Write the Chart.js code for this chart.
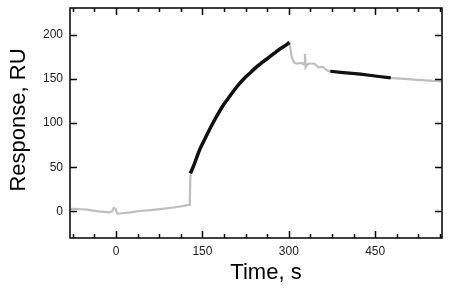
<!DOCTYPE html>
<html>
<head>
<meta charset="utf-8">
<script src="https://cdn.jsdelivr.net/npm/chart.js@4"></script>
<style>
  html, body { margin: 0; padding: 0; background: #fff; }
  #wrap { width: 450px; height: 288px; }
</style>
</head>
<body>
<div id="wrap"><canvas id="sensorgram"></canvas></div>
<script>
// full sensorgram (grey)
const sensorTime = [-79, -70, -60, -50, -40, -30, -20, -12, -7, -4, -1, 2, 10, 25, 40, 60, 80, 100, 115, 127, 128,
  129, 135, 140, 146, 155, 165, 175, 185, 195, 205, 215, 225, 235, 245, 255, 265, 275, 285, 295, 301,
  303, 305, 307, 310, 314, 318, 322, 325, 327, 328, 329, 332, 336, 340, 344, 348, 352, 356, 360, 364, 368,
  372, 400, 430, 460, 477, 500, 530, 566];
const sensorResp = [3, 3, 2.5, 2, 1, 0, -0.5, -1, 0, 4, 3, -2.5, -2, -1, 0.5, 1.5, 3, 4.5, 6, 7.5, 8,
  40, 52, 61, 71, 83, 96, 108, 119, 128, 137, 145, 152, 158, 164, 169, 174, 179, 184, 188, 191,
  183, 175, 171, 168, 167, 167.5, 168, 166.5, 168, 178, 163, 166, 167.5, 167, 167, 165, 163, 163.5, 163, 160.5, 159,
  158.5, 156.5, 154.5, 152.5, 151, 149.8, 148.5, 147];

// fitted association (black)
const assocTime = [129, 135, 140, 146, 155, 165, 175, 185, 195, 205, 215, 225, 235, 245, 255, 265, 275, 285, 295, 301];
const assocResp = [43, 52, 61, 71, 83, 96, 108, 119, 128, 137, 145, 152, 158, 164, 169, 174, 179, 184, 188, 191];

// fitted dissociation (black)
const dissocTime = [372, 390, 410, 425, 440, 460, 477];
const dissocResp = [158.5, 157.3, 156, 155.2, 154, 152.3, 151];

const xTicks = [0, 150, 300, 450];
const yTicks = [0, 50, 100, 150, 200];
const xMinorStep = 37.5;

const toPoints = (xs, ys) => xs.map((x, i) => ({ x: x, y: ys[i] }));

const frameAndTitles = {
  id: "frameAndTitles",
  afterDraw(chart) {
    const { ctx, chartArea, scales } = chart;
    const { left, right, top, bottom } = chartArea;
    ctx.save();
    ctx.strokeStyle = "#000";
    ctx.lineWidth = 1.5;
    ctx.strokeRect(left, top, right - left, bottom - top);

    ctx.beginPath();
    // x ticks, inward on top and bottom
    for (let v = -75; v <= scales.x.max; v += xMinorStep) {
      const px = Math.round(scales.x.getPixelForValue(v)) + 0.5;
      const len = xTicks.includes(v) ? 7 : 4;
      ctx.moveTo(px, bottom); ctx.lineTo(px, bottom - len);
      ctx.moveTo(px, top); ctx.lineTo(px, top + len);
    }
    // y ticks, inward on left and right
    yTicks.forEach(v => {
      const py = Math.round(scales.y.getPixelForValue(v)) + 0.5;
      ctx.moveTo(left, py); ctx.lineTo(left + 7, py);
      ctx.moveTo(right, py); ctx.lineTo(right - 7, py);
    });
    ctx.stroke();

    ctx.fillStyle = "#000";
    ctx.font = "22px 'Liberation Sans', Arial, sans-serif";
    ctx.textAlign = "center";
    ctx.textBaseline = "alphabetic";
    ctx.fillText("Time, s", 266, 279);

    ctx.translate(25, 120);
    ctx.rotate(-Math.PI / 2);
    ctx.fillText("Response, RU", 0, 0);
    ctx.restore();
  }
};

new Chart("sensorgram", {
  type: "line",
  data: {
    datasets: [
      {
        data: toPoints(assocTime, assocResp),
        borderColor: "#111",
        borderWidth: 3.5,
        pointRadius: 0,
        cubicInterpolationMode: "monotone",
        order: 1
      },
      {
        data: toPoints(dissocTime, dissocResp),
        borderColor: "#111",
        borderWidth: 3.2,
        pointRadius: 0,
        order: 1
      },
      {
        data: toPoints(sensorTime, sensorResp),
        borderColor: "#bfbfbf",
        borderWidth: 2.2,
        pointRadius: 0,
        tension: 0,
        order: 2
      }
    ]
  },
  options: {
    responsive: true,
    maintainAspectRatio: false,
    animation: false,
    layout: { padding: { top: 8, right: 8, left: 0, bottom: 0 } },
    plugins: { legend: { display: false }, tooltip: { enabled: false } },
    scales: {
      x: {
        type: "linear",
        min: -80,
        max: 566,
        grid: { display: false, drawTicks: false },
        border: { display: false },
        afterBuildTicks: s => { s.ticks = xTicks.map(v => ({ value: v })); },
        afterFit: s => { s.height = 50; s.paddingLeft = 0; s.paddingRight = 0; },
        ticks: {
          color: "#222",
          padding: 6,
          maxRotation: 0,
          font: { family: "'Liberation Sans', Arial, sans-serif", size: 12 }
        }
      },
      y: {
        min: -30,
        max: 230,
        grid: { display: false, drawTicks: false },
        border: { display: false },
        afterBuildTicks: s => { s.ticks = yTicks.map(v => ({ value: v })); },
        afterFit: s => { s.width = 70; s.paddingTop = 0; s.paddingBottom = 0; },
        ticks: {
          color: "#222",
          padding: 7,
          font: { family: "'Liberation Sans', Arial, sans-serif", size: 12 }
        }
      }
    }
  },
  plugins: [frameAndTitles]
});
</script>
</body>
</html>
